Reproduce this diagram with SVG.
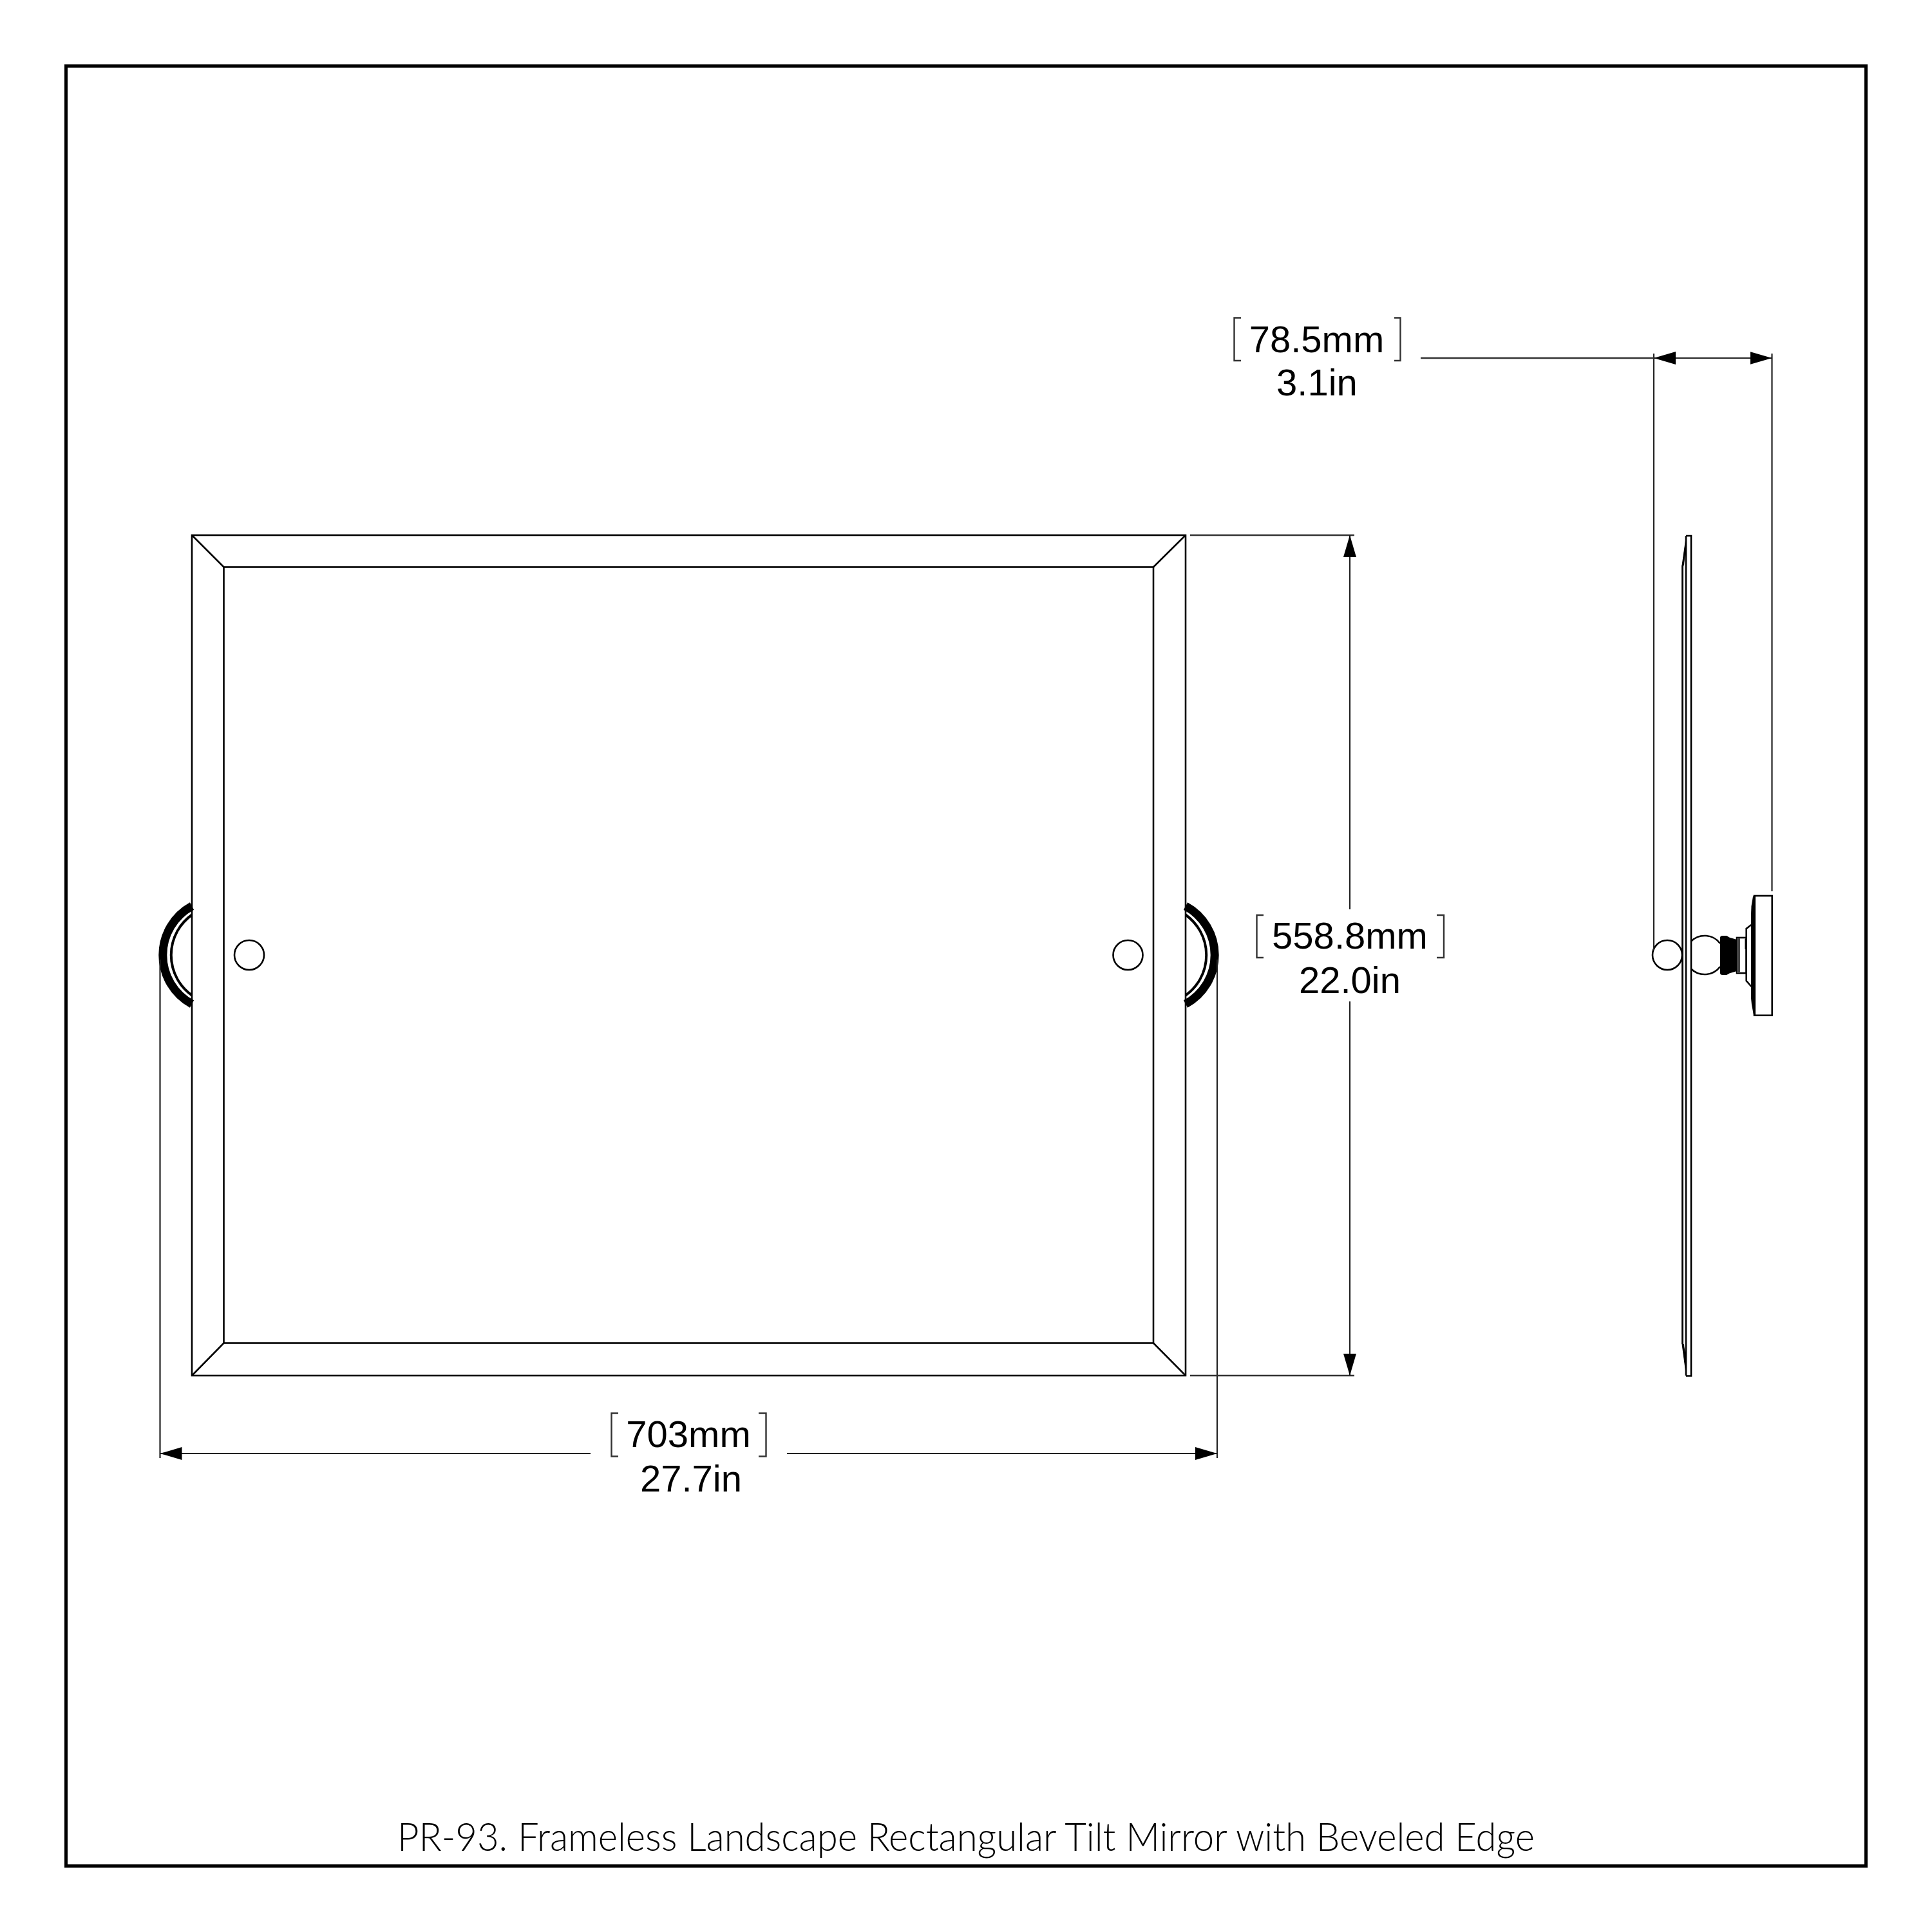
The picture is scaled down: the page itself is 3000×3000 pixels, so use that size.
<svg xmlns="http://www.w3.org/2000/svg" width="3000" height="3000" viewBox="0 0 3000 3000">
<style>
.l{fill:none;stroke:#000;stroke-width:2.6}
.d{fill:none;stroke:#222;stroke-width:2.2}
.b{fill:none;stroke:#333;stroke-width:2.4}
.t{font-family:"Liberation Sans",Arial,sans-serif;font-size:58px;fill:#000;text-anchor:middle}
.w{fill:#fff;stroke:#000;stroke-width:2.6}
</style>
<defs>
<marker id="a" markerUnits="userSpaceOnUse" markerWidth="36" markerHeight="22" refX="34" refY="10" orient="auto-start-reverse"><path d="M34,10 L0,0 L0,20 Z" fill="#000"/></marker>
</defs>
<rect width="3000" height="3000" fill="#fff"/>
<rect id="frame" x="102.5" y="102.5" width="2795" height="2795" fill="none" stroke="#000" stroke-width="5"/>
<g id="handle-left">
<path d="M298,1407 A86.5,86.5 0 0 0 298,1559" fill="none" stroke="#000" stroke-width="13"/>
<path d="M298,1420.5 A76.7,76.7 0 0 0 298,1545.5" fill="none" stroke="#000" stroke-width="4"/>
</g>
<g id="handle-right">
<path d="M1841,1407 A86.5,86.5 0 0 1 1841,1559" fill="none" stroke="#000" stroke-width="13"/>
<path d="M1841,1420.5 A76.7,76.7 0 0 1 1841,1545.5" fill="none" stroke="#000" stroke-width="4"/>
</g>
<g id="mirror-front">
<rect class="l" x="298" y="831" width="1543" height="1305"/>
<rect class="l" x="347.5" y="880.5" width="1443.5" height="1205"/>
<path class="l" d="M298,831 L347.5,880.5 M1841,831 L1791,880.5 M298,2136 L347.5,2085.5 M1841,2136 L1791,2085.5"/>
<circle class="l" cx="387" cy="1483" r="23"/>
<circle class="l" cx="1751.5" cy="1483" r="23"/>
</g>
<g id="mirror-side">
<path d="M2618,832 L2611.5,878 L2611.5,2087 L2618,2136 Z" fill="#000" stroke="none"/>
<path d="M2614,880 L2617,860 L2617,2100 L2614,2087 Z" fill="#fff" stroke="none"/>
<path class="l" d="M2612.5,878 V2087 M2618,832 V2136 M2618,832 H2626 V2136.5 H2618"/>
<path d="M2618.5,832 L2612,878 L2615,878 Z M2618.5,2136 L2612,2087 L2615,2087 Z" fill="#000"/>
</g>
<g id="bracket-side">
<circle class="l" cx="2589" cy="1483" r="23"/>
<path class="l" d="M2626,1461.5 A30,30 0 0 1 2671,1465 M2626,1504.5 A30,30 0 0 0 2671,1501"/>
<path d="M2671,1456 Q2671,1453 2675,1453 L2681,1453 Q2685,1456 2690,1457 L2697,1459 V1508 L2690,1510 Q2685,1511 2681,1514 L2675,1514 Q2671,1514 2671,1511 Z" fill="#000"/>
<rect class="l" x="2697" y="1456" width="14.7" height="55" />
<rect x="2697" y="1456" width="5" height="55" fill="#444"/>
<rect x="2709.5" y="1458" width="2.5" height="16" fill="#000"/>
<path class="l" d="M2719.5,1436 L2711.7,1442 V1523 L2719.5,1532"/>
<path d="M2724,1391 L2722,1392 L2719.5,1407 L2719,1420 V1550 L2720,1560 L2723,1576 L2726,1577 V1391 Z" fill="#000"/>
<rect class="l" x="2724" y="1391" width="27.7" height="185.7"/>
</g>
<g id="connectors">
<path class="d" d="M248.5,1490 V2264 M1890,1490 V2264"/>
<path class="d" d="M917,2257 H248.5" marker-end="url(#a)"/>
<path class="d" d="M1222,2257 H1890" marker-end="url(#a)"/>
<path class="b" d="M1848,831 H2103 M1848,2136 H2103"/>
<path class="d" d="M2096,1412 V831" marker-end="url(#a)"/>
<path class="d" d="M2096,1555 V2136" marker-end="url(#a)"/>
<path class="d" d="M2568,549 V1475 M2751.5,549 V1384"/>
<path class="b" d="M2206,556 H2568"/>
<path class="d" d="M2568,556 H2751.5" marker-start="url(#a)" marker-end="url(#a)"/>
</g>
<g id="label-width">
<path class="b" d="M960,2194.5 H949.5 V2261.5 H960 M1178,2194.5 H1189.5 V2261.5 H1178"/>
<text class="t" x="1069" y="2247">703mm</text>
<text class="t" x="1073" y="2316">27.7in</text>
</g>
<g id="label-height">
<path class="b" d="M1962,1421 H1951.5 V1487 H1962 M2231,1421 H2242 V1487 H2231"/>
<text class="t" x="2096" y="1473">558.8mm</text>
<text class="t" x="2096" y="1542">22.0in</text>
</g>
<g id="label-depth">
<path class="b" d="M1927,493.5 H1916.5 V560 H1927 M2165,493.5 H2174.5 V560 H2165"/>
<text class="t" x="2044.5" y="547">78.5mm</text>
<text class="t" x="2045" y="614">3.1in</text>
</g>
<text id="title" x="617" y="2874" font-family="Lato,'Noto Sans',sans-serif" font-weight="300" font-size="62" fill="#000" textLength="1766" lengthAdjust="spacingAndGlyphs">PR-93. Frameless Landscape Rectangular Tilt Mirror with Beveled Edge</text>
</svg>
